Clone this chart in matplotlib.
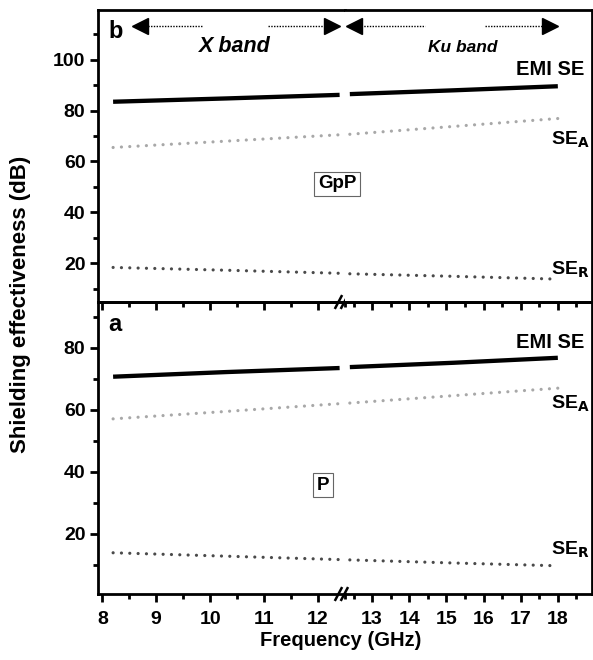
import matplotlib.pyplot as plt
import numpy as np
from matplotlib import rcParams
import matplotlib.ticker as ticker

rcParams["font.family"] = ["Liberation Sans", "DejaVu Sans"]
rcParams["font.weight"] = "bold"
rcParams["axes.linewidth"] = 2.0

# X band and Ku band frequencies (GHz)
f_x = [8.2, 10.3, 12.4]
f_ku = [12.4, 15.2, 18.0]

# panel b : GpP
gpp_emi_x = [83.5, 84.8, 86.2]
gpp_emi_ku = [86.5, 88.0, 89.6]
gpp_sea_x = [65.5, 68.0, 70.5]
gpp_sea_ku = [70.7, 73.8, 76.9]
gpp_ser_x = [18.3, 17.2, 16.0]
gpp_ser_ku = [15.8, 14.8, 13.7]

# panel a : P
p_emi_x = [70.7, 72.2, 73.5]
p_emi_ku = [73.8, 75.2, 76.8]
p_sea_x = [57.1, 59.5, 62.0]
p_sea_ku = [62.2, 64.6, 67.0]
p_ser_x = [13.9, 12.8, 11.7]
p_ser_ku = [11.6, 10.6, 9.7]

left_ticks = [8, 9, 10, 11, 12]
right_ticks = [13, 14, 15, 16, 17, 18]

fig = plt.figure(figsize=(5.93, 6.6), dpi=100)
L, R = 98 / 593, 592 / 593
T, M, B = 1 - 10 / 660, 1 - 302 / 660, 1 - 594 / 660
W = (R - L) / 2

ax_bl = fig.add_axes([L, M, W, T - M])
ax_br = fig.add_axes([L + W, M, W, T - M])
ax_al = fig.add_axes([L, B, W, M - B], facecolor="none")
ax_ar = fig.add_axes([L + W, B, W, M - B], facecolor="none")

dot = (0, (0.01, 2.6))


def draw(axl, axr, emi_x, emi_ku, sea_x, sea_ku, ser_x, ser_ku):
    for ax, f, e, a, r in [(axl, f_x, emi_x, sea_x, ser_x), (axr, f_ku, emi_ku, sea_ku, ser_ku)]:
        ax.plot(f, e, color="k", linewidth=3.1, solid_capstyle="butt")
        ax.plot(f, a, color="#a8a8a8", linewidth=2.3, linestyle=dot, dash_capstyle="round")
        ax.plot(f, r, color="#4a4a4a", linewidth=2.3, linestyle=dot, dash_capstyle="round")


draw(ax_bl, ax_br, gpp_emi_x, gpp_emi_ku, gpp_sea_x, gpp_sea_ku, gpp_ser_x, gpp_ser_ku)
draw(ax_al, ax_ar, p_emi_x, p_emi_ku, p_sea_x, p_sea_ku, p_ser_x, p_ser_ku)

for ax in [ax_bl, ax_al]:
    ax.set_xlim(7.92, 12.5)
    ax.spines["right"].set_visible(False)
    ax.xaxis.set_major_locator(ticker.FixedLocator(left_ticks))
for ax in [ax_br, ax_ar]:
    ax.set_xlim(12.27, 18.92)
    ax.spines["left"].set_visible(False)
    ax.xaxis.set_major_locator(ticker.FixedLocator(right_ticks))
    ax.tick_params(axis="y", which="both", left=False, labelleft=False)

for ax in [ax_bl, ax_br, ax_al, ax_ar]:
    ax.xaxis.set_minor_locator(ticker.MultipleLocator(0.5))
    ax.tick_params(axis="both", which="major", direction="out", length=6, width=2, labelsize=14, top=False, right=False)
    ax.tick_params(axis="both", which="minor", direction="out", length=3.5, width=2, top=False, right=False)

for ax in [ax_bl, ax_br]:
    ax.set_ylim(4.7, 119.6)
    ax.tick_params(axis="x", which="both", labelbottom=False)
for ax in [ax_al, ax_ar]:
    ax.set_ylim(0.6, 94.8)

ax_bl.yaxis.set_major_locator(ticker.FixedLocator([20, 40, 60, 80, 100]))
ax_bl.yaxis.set_minor_locator(ticker.FixedLocator([10, 30, 50, 70, 90, 110]))
ax_al.yaxis.set_major_locator(ticker.FixedLocator([20, 40, 60, 80]))
ax_al.yaxis.set_minor_locator(ticker.FixedLocator([10, 30, 50, 70, 90]))
for ax in [ax_br, ax_ar]:
    ax.yaxis.set_major_locator(ticker.NullLocator())
    ax.yaxis.set_minor_locator(ticker.NullLocator())
for ax in [ax_bl, ax_al]:
    ax.tick_params(axis="y", pad=3)
ax_al.tick_params(axis="x", pad=6)
ax_ar.tick_params(axis="x", pad=6)

# break marks
for ax in [ax_bl, ax_al]:
    for dx in [-0.024, 0.0]:
        ax.plot([0.985 + dx, 1.01 + dx], [-0.02, 0.02], transform=ax.transAxes,
                color="k", linewidth=1.8, clip_on=False)

# curve labels
for ax, ye, ya, yr in [(ax_br, 96, 68.6, 17.3), (ax_ar, 81.6, 62, 14.8)]:
    ax.text(18.72, ye, "EMI SE", ha="right", va="center", fontsize=14.5, fontweight="bold")
    ax.text(18.85, ya, r"SE$_\mathbf{A}$", ha="right", va="center", fontsize=14, fontweight="bold")
    ax.text(18.85, yr, r"SE$_\mathbf{R}$", ha="right", va="center", fontsize=14, fontweight="bold")

# band arrows
ya = 113.3
ax_bl.plot([8.8, 9.85], [ya, ya], color="k", linestyle=(0, (1, 1)), linewidth=1)
ax_bl.plot([8.69], [ya], marker="<", color="k", markersize=11)
ax_bl.plot([11.07, 12.1], [ya, ya], color="k", linestyle=(0, (1, 1)), linewidth=1)
ax_bl.plot([12.26], [ya], marker=">", color="k", markersize=11)
ax_br.plot([12.7, 14.43], [ya, ya], color="k", linestyle=(0, (1, 1)), linewidth=1)
ax_br.plot([12.5], [ya], marker="<", color="k", markersize=11)
ax_br.plot([16.03, 17.6], [ya, ya], color="k", linestyle=(0, (1, 1)), linewidth=1)
ax_br.plot([17.8], [ya], marker=">", color="k", markersize=11)

fig.text(235 / 593, 1 - 47 / 660, "X band", ha="center", va="center", fontsize=15.5,
         fontweight="bold", style="italic")
fig.text(463 / 593, 1 - 47 / 660, "Ku band", ha="center", va="center", fontsize=12.5,
         fontweight="bold", style="italic")

fig.text(108 / 593, 1 - 31 / 660, "b", ha="left", va="center", fontsize=17, fontweight="bold")
fig.text(108 / 593, 1 - 324 / 660, "a", ha="left", va="center", fontsize=17, fontweight="bold")

box = dict(boxstyle="square,pad=0.18", facecolor="white", edgecolor="#666666", linewidth=0.8)
fig.text(337 / 593, 1 - 184 / 660, "GpP", ha="center", va="center", fontsize=13.5,
         fontweight="bold", bbox=box)
fig.text(323 / 593, 1 - 485 / 660, "P", ha="center", va="center", fontsize=13.5,
         fontweight="bold", bbox=box)

fig.text(21 / 593, 1 - 304 / 660, "Shielding effectiveness (dB)", rotation=90, ha="center",
         va="center", fontsize=16, fontweight="bold")
fig.text(341 / 593, 1 - 641 / 660, "Frequency (GHz)", ha="center", va="center", fontsize=14.5,
         fontweight="bold")

fig.savefig("out.png", dpi=100)
